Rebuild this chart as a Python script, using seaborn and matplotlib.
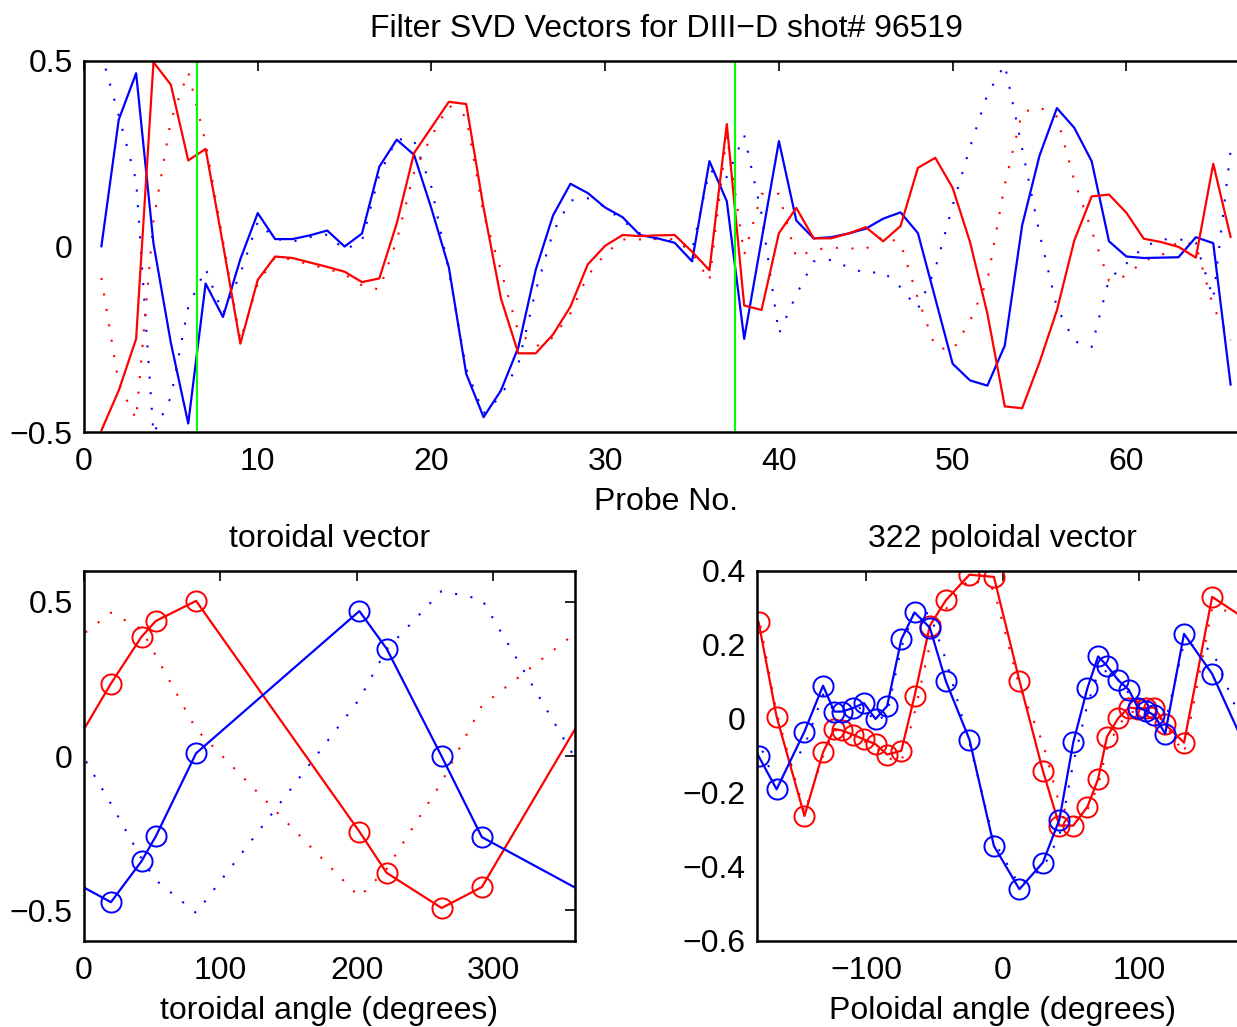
import numpy as np
import matplotlib
matplotlib.use("Agg")
import matplotlib.pyplot as plt
import seaborn as sns

# probe numbers 1..66 (probes 7-37 are the poloidal array)
probe = np.arange(1, 67)

blue_meas = [0.0, 0.342, 0.467, 0.008, -0.26, -0.477, -0.1, -0.19, -0.034, 0.09,
             0.02, 0.02, 0.03, 0.043, 0.0, 0.035, 0.215, 0.288, 0.247, 0.102,
             -0.056, -0.343, -0.46, -0.388, -0.272, -0.063, 0.084, 0.169, 0.144, 0.105,
             0.079, 0.031, 0.022, 0.01, -0.04, 0.23, 0.122, -0.249, 0.018, 0.284,
             0.07, 0.022, 0.025, 0.035, 0.048, 0.075, 0.092, 0.036, -0.14, -0.316,
             -0.361, -0.375, -0.267, 0.057, 0.245, 0.373, 0.32, 0.23, 0.014, -0.027,
             -0.031, -0.03, -0.029, 0.025, 0.009, -0.373]
red_meas = [-0.496, -0.388, -0.249, 0.497, 0.436, 0.232, 0.263, 0.006, -0.262, -0.09,
            -0.027, -0.031, -0.043, -0.055, -0.068, -0.096, -0.086, 0.062, 0.252, 0.321,
            0.39, 0.384, 0.104, -0.14, -0.288, -0.288, -0.237, -0.162, -0.048, 0.002,
            0.031, 0.028, 0.03, 0.031, -0.014, -0.064, 0.33, -0.159, -0.171, 0.036,
            0.104, 0.022, 0.022, 0.035, 0.052, 0.014, 0.055, 0.212, 0.239, 0.158,
            0.012, -0.181, -0.431, -0.436, -0.312, -0.172, 0.016, 0.135, 0.14, 0.091,
            0.021, 0.012, -0.001, -0.03, 0.223, 0.025]
blue_fit = [0.52, 0.353, 0.178, -0.505, -0.406, -0.163, -0.06, -0.181, -0.074, 0.066,
            0.021, 0.013, 0.025, 0.032, -0.009, 0.015, 0.194, 0.29, 0.285, 0.16,
            -0.065, -0.33, -0.45, -0.403, -0.316, -0.119, 0.039, 0.124, 0.13, 0.106,
            0.07, 0.035, 0.019, 0.013, -0.011, 0.205, 0.187, 0.3, 0.088, -0.235,
            -0.13, -0.04, -0.036, -0.056, -0.072, -0.068, -0.11, -0.168, -0.06, 0.11,
            0.268, 0.41, 0.49, 0.264, 0.035, -0.164, -0.255, -0.271, -0.088, -0.046,
            -0.001, 0.019, 0.02, 0.01, -0.14, 0.259]
red_fit = [-0.085, -0.37, -0.465, 0.07, 0.34, 0.47, 0.28, 0.016, -0.253, -0.1,
           -0.029, -0.035, -0.049, -0.06, -0.075, -0.105, -0.116, 0.016, 0.2, 0.297,
           0.38, 0.35, 0.088, -0.065, -0.23, -0.27, -0.245, -0.18, -0.078, -0.02,
           0.019, 0.019, 0.02, 0.02, -0.015, -0.093, 0.3, -0.022, 0.142, 0.142,
           -0.03, -0.009, -0.003, -0.005, -0.007, 0.029, 0.009, -0.14, -0.271, -0.28,
           -0.2, -0.092, 0.167, 0.362, 0.375, 0.35, 0.178, 0.043, -0.092, -0.079,
           -0.038, -0.025, 0.014, 0.005, -0.163, -0.253]
array_bounds = [6.5, 37.5]

# toroidal array
tor_angle = [19.75, 42.2, 52.7, 82.2, 201.9, 221.9, 262.2, 291.7]
tor_blue = [-0.474, -0.341, -0.26, 0.009, 0.47, 0.348, -0.001, -0.263]
tor_red = [0.235, 0.387, 0.438, 0.503, -0.245, -0.379, -0.493, -0.425]
tor_blue_fit = [-0.155, -0.333, -0.403, -0.509, 0.184, 0.346, 0.535, 0.508]
tor_red_fit = [0.465, 0.411, 0.325, 0.087, -0.457, -0.366, -0.085, 0.163]

# poloidal array (probes 7..37)
pol_angle = [-178.9, -165.6, -145.2, -131.6, -123.3, -117.8, -109.3, -101.6, -93.1, -84.6,
             -74.2, -64.5, -53.3, -41.5, -24.2, -6.3, 12.4, 29.6, 41.7, 51.9,
             62.3, 70.1, 76.6, 84.8, 92.6, 99.2, 105.3, 111.3, 119.3, 133.1, 153.7]
pol_sel = slice(6, 37)

sns.set_style("white")
FS = 23
plt.rcParams['font.family'] = ['Liberation Sans', 'DejaVu Sans']
plt.rcParams['font.size'] = FS
plt.rcParams['axes.titlesize'] = FS
plt.rcParams['axes.labelsize'] = FS
plt.rcParams['xtick.labelsize'] = FS
plt.rcParams['ytick.labelsize'] = FS
plt.rcParams['text.color'] = 'black'
plt.rcParams['axes.labelcolor'] = 'black'
plt.rcParams['xtick.color'] = 'black'
plt.rcParams['ytick.color'] = 'black'
plt.rcParams['axes.linewidth'] = 1.8
plt.rcParams['xtick.direction'] = 'in'
plt.rcParams['ytick.direction'] = 'in'
plt.rcParams['xtick.top'] = True
plt.rcParams['ytick.right'] = True
plt.rcParams['xtick.major.size'] = 7
plt.rcParams['ytick.major.size'] = 7
plt.rcParams['xtick.major.width'] = 1.2
plt.rcParams['ytick.major.width'] = 1.2
plt.rcParams['xtick.major.pad'] = 11
plt.rcParams['ytick.major.pad'] = 8
plt.rcParams['axes.unicode_minus'] = True

DOT = (0, (1, 6.5))
LW = 1.6


def wrap(angle, values):
    a = np.asarray(angle, dtype=float)
    v = np.asarray(values, dtype=float)
    return np.concatenate([a - 360, a, a + 360]), np.concatenate([v, v, v])


def line(ax, x, y, color, ls='-', lw=LW, marker=None):
    kw = {}
    if marker:
        kw = dict(marker='o', markersize=14.5, markerfacecolor='none',
                  markeredgecolor=color, markeredgewidth=1.4)
    sns.lineplot(x=x, y=y, ax=ax, color=color, linestyle=ls, linewidth=lw,
                 sort=False, estimator=None, legend=False, **kw)


fig = plt.figure(figsize=(12.37, 10.27), dpi=100)
W, H = 1237, 1027
ax_top = fig.add_axes([84 / W, 1 - 432 / H, (1248 - 84) / W, (432 - 61) / H])
ax_tor = fig.add_axes([84 / W, 1 - 941 / H, (575 - 84) / W, (941 - 571) / H])
ax_pol = fig.add_axes([757 / W, 1 - 941 / H, (1248 - 757) / W, (941 - 571) / H])

# top: all probes
line(ax_top, probe, blue_fit, 'blue', ls=DOT, lw=1.5)
line(ax_top, probe, red_fit, 'red', ls=DOT, lw=1.5)
line(ax_top, probe, blue_meas, 'blue')
line(ax_top, probe, red_meas, 'red')
for xb in array_bounds:
    ax_top.axvline(xb, color='#00ff00', lw=1.5)
ax_top.set_xlim(0, 67)
ax_top.set_ylim(-0.5, 0.5)
ax_top.set_xticks(range(0, 61, 10))
ax_top.set_yticks([-0.5, 0, 0.5])
ax_top.set_yticklabels(['\u22120.5', '0', '0.5'])
ax_top.set_xlabel('Probe No.', labelpad=7)
ax_top.set_title('Filter SVD Vectors for DIII\u2212D shot# 96519', pad=17)

# toroidal
x, y = wrap(tor_angle, tor_blue_fit)
line(ax_tor, x, y, 'blue', ls=DOT, lw=1.5)
x, y = wrap(tor_angle, tor_red_fit)
line(ax_tor, x, y, 'red', ls=DOT, lw=1.5)
x, y = wrap(tor_angle, tor_red)
line(ax_tor, x, y, 'red', marker=True)
x, y = wrap(tor_angle, tor_blue)
line(ax_tor, x, y, 'blue', marker=True)
ax_tor.set_xlim(0, 360)
ax_tor.set_ylim(-0.6, 0.6)
ax_tor.set_xticks([0, 100, 200, 300])
ax_tor.set_yticks([-0.5, 0, 0.5])
ax_tor.set_yticklabels(['\u22120.5', '0', '0.5'])
ax_tor.set_xlabel('toroidal angle (degrees)', labelpad=7)
ax_tor.set_title('toroidal vector', pad=17)

# poloidal
x, y = wrap(pol_angle, np.asarray(blue_fit)[pol_sel])
line(ax_pol, x, y, 'blue', ls=DOT, lw=1.5)
x, y = wrap(pol_angle, np.asarray(red_fit)[pol_sel])
line(ax_pol, x, y, 'red', ls=DOT, lw=1.5)
x, y = wrap(pol_angle, np.asarray(red_meas)[pol_sel])
line(ax_pol, x, y, 'red', marker=True)
x, y = wrap(pol_angle, np.asarray(blue_meas)[pol_sel])
line(ax_pol, x, y, 'blue', marker=True)
ax_pol.set_xlim(-180, 180)
ax_pol.set_ylim(-0.6, 0.4)
ax_pol.set_xticks([-100, 0, 100])
ax_pol.set_xticklabels(['\u2212100', '0', '100'])
ax_pol.set_yticks([-0.6, -0.4, -0.2, 0, 0.2, 0.4])
ax_pol.set_yticklabels(['\u22120.6', '\u22120.4', '\u22120.2', '0', '0.2', '0.4'])
ax_pol.set_xlabel('Poloidal angle (degrees)', labelpad=7)
ax_pol.set_title('322 poloidal vector', pad=17)

for ax in (ax_top, ax_tor, ax_pol):
    for s in ax.spines.values():
        s.set_color('black')

fig.savefig('out.png', dpi=100, facecolor='white')
